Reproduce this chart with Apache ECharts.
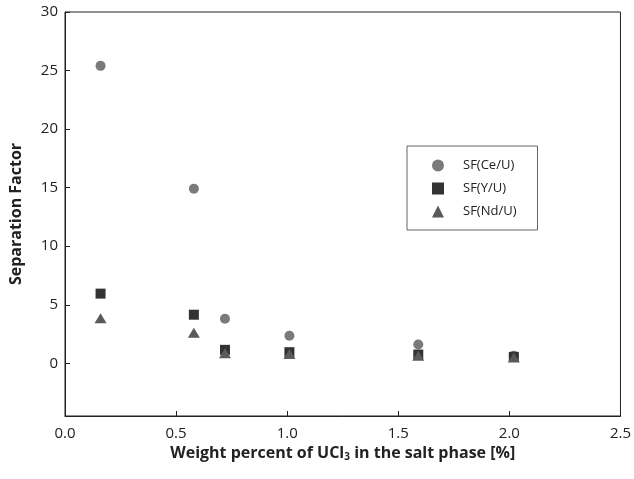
<!DOCTYPE html>
<html>
<head>
<meta charset="utf-8">
<script src="https://cdn.jsdelivr.net/npm/echarts@6/dist/echarts.min.js"></script>
<style>
  html, body { margin: 0; padding: 0; background: #fff; }
  #chart { width: 634px; height: 479px; }
</style>
</head>
<body>
<div id="chart"></div>
<script>
  // UCl3 wt% in salt phase
  const ucl3 = [0.16, 0.58, 0.72, 1.01, 1.59, 2.02];
  const sfCe = [25.4, 14.9, 3.8, 2.35, 1.6, 0.65];
  const sfY = [5.95, 4.15, 1.15, 0.95, 0.75, 0.55];
  const sfNd = [3.85, 2.6, 0.85, 0.8, 0.65, 0.5];
  const yTicks = [0, 5, 10, 15, 20, 25, 30];

  const fontFamily = '"Open Sans", "Noto Sans", sans-serif';

  function pairs(ys) {
    return ucl3.map(function(x, i) { return [x, ys[i]]; });
  }

  const chart = echarts.init(document.getElementById('chart'));
  const option = {
    animation: false,
    textStyle: { fontFamily: fontFamily },
    grid: {
      left: 64,
      right: 8,
      top: 12,
      bottom: 63,
      show: true,
      borderColor: '#222',
      borderWidth: 1
    },
    legend: {
      orient: 'vertical',
      left: 407,
      top: 146,
      padding: [13, 21, 12, 25],
      itemGap: 10,
      itemWidth: 12,
      itemHeight: 12,
      borderColor: '#666',
      borderWidth: 1,
      textStyle: {
        fontFamily: fontFamily,
        fontSize: 13,
        color: '#222',
        padding: [0, 0, 0, 14]
      },
      data: ['SF(Ce/U)', 'SF(Y/U)', 'SF(Nd/U)']
    },
    xAxis: {
      type: 'value',
      min: 0,
      max: 2.5,
      interval: 0.5,
      name: '{n|Weight percent of UCl}{s|3}{n| in the salt phase [%]}',
      nameLocation: 'middle',
      nameGap: 29,
      nameTextStyle: {
        rich: {
          n: { fontFamily: fontFamily, fontSize: 16, fontWeight: 'bold', color: '#222' },
          s: { fontFamily: fontFamily, fontSize: 10, fontWeight: 'bold', color: '#222', verticalAlign: 'bottom', padding: [7, 0, 0, 0] }
        }
      },
      axisLine: { onZero: false, lineStyle: { color: '#222', width: 1 } },
      axisTick: { inside: true, length: 5, lineStyle: { color: '#222' } },
      axisLabel: {
        margin: 10,
        fontSize: 15,
        color: '#222',
        formatter: function(v) { return v.toFixed(1); }
      },
      splitLine: { show: false }
    },
    yAxis: {
      type: 'value',
      min: -4.5,
      max: 30,
      name: 'Separation Factor',
      nameLocation: 'middle',
      nameGap: 41,
      nameTextStyle: { fontFamily: fontFamily, fontSize: 16, fontWeight: 'bold', color: '#222' },
      axisLine: { onZero: false, lineStyle: { color: '#222', width: 1 } },
      axisTick: { inside: true, length: 5, customValues: yTicks, lineStyle: { color: '#222' } },
      axisLabel: { margin: 7, fontSize: 15, color: '#222', customValues: yTicks },
      splitLine: { show: false }
    },
    series: [
      {
        name: 'SF(Ce/U)',
        type: 'scatter',
        symbol: 'circle',
        symbolSize: 10,
        itemStyle: { color: '#7a7a7a', opacity: 1 },
        data: pairs(sfCe)
      },
      {
        name: 'SF(Y/U)',
        type: 'scatter',
        symbol: 'rect',
        symbolSize: 10,
        itemStyle: { color: '#333', opacity: 1 },
        data: pairs(sfY)
      },
      {
        name: 'SF(Nd/U)',
        type: 'scatter',
        symbol: 'triangle',
        symbolSize: [12, 10],
        itemStyle: { color: '#5a5a5a', opacity: 1 },
        data: pairs(sfNd)
      }
    ]
  };
  chart.setOption(option);
</script>
</body>
</html>
